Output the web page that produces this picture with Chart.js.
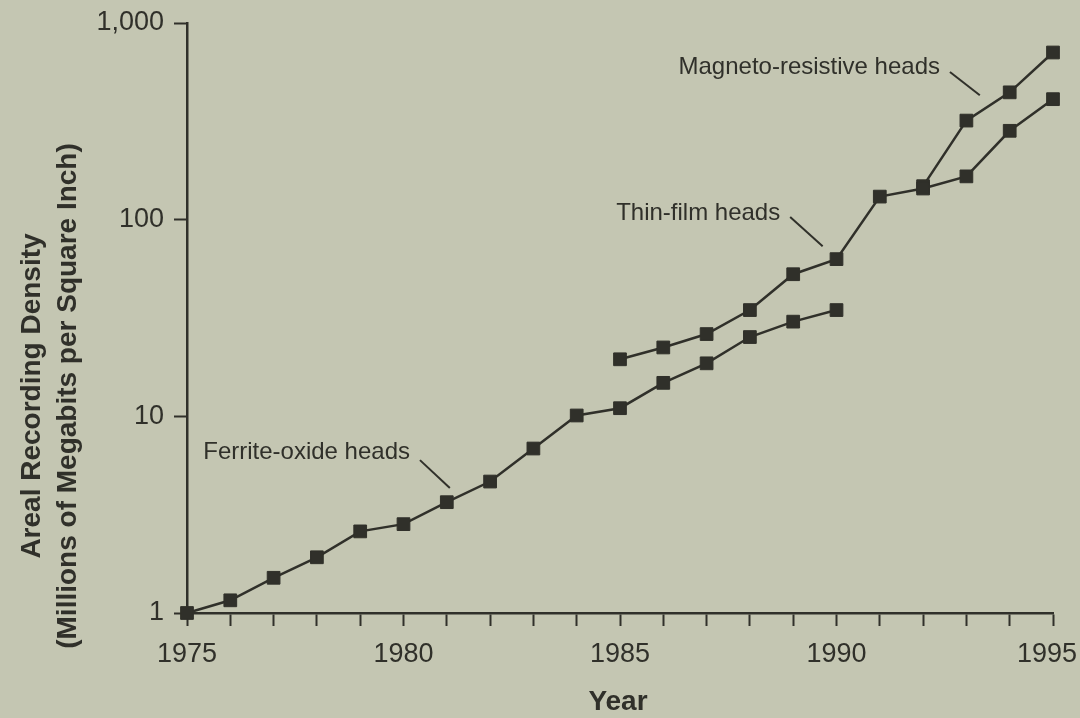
<!DOCTYPE html>
<html>
<head>
<meta charset="utf-8">
<script src="https://cdn.jsdelivr.net/npm/chart.js@4.4.0/dist/chart.umd.min.js"></script>
<style>
  html, body { margin: 0; padding: 0; background: #c4c6b2; }
  #wrap { width: 1080px; height: 718px; }
</style>
</head>
<body>
<div id="wrap"><canvas id="chart" width="1080" height="718"></canvas></div>
<script>
// values (millions of megabits per square inch)
const ferriteYears = [1975, 1976, 1977, 1978, 1979, 1980, 1981, 1982, 1983, 1984, 1985, 1986, 1987, 1988, 1989, 1990];
const ferriteValues = [1.0, 1.16, 1.51, 1.92, 2.6, 2.83, 3.66, 4.66, 6.86, 10.1, 11.0, 14.8, 18.6, 25.3, 30.3, 34.7];

const thinYears = [1985, 1986, 1987, 1988, 1989, 1990, 1991, 1992, 1993, 1994, 1995];
const thinValues = [19.5, 22.4, 26.2, 34.7, 52.8, 63, 131, 144, 166, 283, 410];

const mrYears = [1992, 1993, 1994, 1995];
const mrValues = [148, 319, 444, 708];

const yTicks = [1, 10, 100, 1000];
const yTickLabels = ["1", "10", "100", "1,000"];
const xTickLabels = ["1975", "1980", "1985", "1990", "1995"];

// annotation text, text anchor (right end) and leader line, in data units
const annoLabels = ["Ferrite-oxide heads", "Thin-film heads", "Magneto-resistive heads"];
const annoTextAt = [[1980.15, 6.58], [1988.70, 107.9], [1992.39, 595]];
const annoLeaderFrom = [[1980.38, 5.99], [1988.93, 103.3], [1992.62, 564]];
const annoLeaderTo = [[1981.07, 4.32], [1989.68, 73.3], [1993.31, 429]];

const yTitle = ["Areal Recording Density", "(Millions of Megabits per Square Inch)"];
const xTitle = "Year";

const ink = "#30302a";
const font = "'Liberation Sans', Arial, Helvetica, sans-serif";

function toPoints(xs, ys) {
  return xs.map((x, i) => ({ x: x, y: ys[i] }));
}

function series(label, xs, ys) {
  return {
    label: label,
    data: toPoints(xs, ys),
    borderColor: ink,
    backgroundColor: ink,
    borderWidth: 2.5,
    pointStyle: "rect",
    pointRadius: 9,
    pointBorderWidth: 1,
    pointBorderColor: ink,
    pointBackgroundColor: ink,
    tension: 0,
    clip: false
  };
}

// draws the labels with their leader lines, the year labels and the axis titles
const extras = {
  id: "extras",
  afterDatasetsDraw(chart) {
    const ctx = chart.ctx;
    const xs = chart.scales.x;
    const ys = chart.scales.y;
    ctx.save();
    ctx.fillStyle = ink;
    ctx.strokeStyle = ink;
    ctx.lineWidth = 2;
    ctx.font = "24px " + font;
    ctx.textAlign = "right";
    ctx.textBaseline = "middle";
    annoLabels.forEach((txt, i) => {
      ctx.fillText(txt, xs.getPixelForValue(annoTextAt[i][0]), ys.getPixelForValue(annoTextAt[i][1]));
      ctx.beginPath();
      ctx.moveTo(xs.getPixelForValue(annoLeaderFrom[i][0]), ys.getPixelForValue(annoLeaderFrom[i][1]));
      ctx.lineTo(xs.getPixelForValue(annoLeaderTo[i][0]), ys.getPixelForValue(annoLeaderTo[i][1]));
      ctx.stroke();
    });

    // year labels under the axis; the last one is kept inside the page
    ctx.font = "27px " + font;
    ctx.textAlign = "center";
    xTickLabels.forEach(lbl => {
      const half = ctx.measureText(lbl).width / 2;
      const px = Math.min(xs.getPixelForValue(Number(lbl)), chart.width - 3 - half);
      ctx.fillText(lbl, px, xs.top + 42);
    });

    // y title, two rotated lines
    ctx.font = "bold 28px " + font;
    ctx.textAlign = "center";
    ctx.translate(0, 396);
    ctx.rotate(-Math.PI / 2);
    ctx.fillText(yTitle[0], 0, 32);
    ctx.fillText(yTitle[1], 0, 68);
    ctx.restore();

    ctx.save();
    ctx.fillStyle = ink;
    ctx.font = "bold 28px " + font;
    ctx.textAlign = "center";
    ctx.textBaseline = "middle";
    ctx.fillText(xTitle, (chart.chartArea.left + chart.chartArea.right) / 2 - 2, 702);
    ctx.restore();
  }
};

new Chart(document.getElementById("chart"), {
  type: "line",
  data: {
    datasets: [
      series("Ferrite-oxide heads", ferriteYears, ferriteValues),
      series("Thin-film heads", thinYears, thinValues),
      series("Magneto-resistive heads", mrYears, mrValues)
    ]
  },
  options: {
    responsive: false,
    animation: false,
    layout: { padding: { left: 0, right: 27, top: 23, bottom: 0 } },
    plugins: {
      legend: { display: false },
      tooltip: { enabled: false }
    },
    scales: {
      x: {
        type: "linear",
        min: ferriteYears[0],
        max: thinYears[thinYears.length - 1],
        afterFit: s => { s.height = 105; s.paddingLeft = 0; s.paddingRight = 0; },
        border: { display: true, color: ink, width: 2.5 },
        grid: { drawOnChartArea: false, drawTicks: true, tickLength: 13, tickColor: ink, tickWidth: 2 },
        ticks: {
          display: false,
          stepSize: 1,
          autoSkip: false,
          maxRotation: 0
        }
      },
      y: {
        type: "logarithmic",
        min: yTicks[0],
        max: yTicks[yTicks.length - 1],
        afterFit: s => { s.width = 187; s.paddingTop = 0; s.paddingBottom = 0; },
        afterBuildTicks: s => { s.ticks = yTicks.map(v => ({ value: v })); },
        border: { display: true, color: ink, width: 2.5 },
        grid: { drawOnChartArea: false, drawTicks: true, tickLength: 13, tickColor: ink, tickWidth: 2 },
        ticks: {
          padding: 10,
          color: ink,
          font: { family: font, size: 27 },
          callback: (v, i) => yTickLabels[yTicks.indexOf(v)]
        }
      }
    }
  },
  plugins: [extras]
});
</script>
</body>
</html>
